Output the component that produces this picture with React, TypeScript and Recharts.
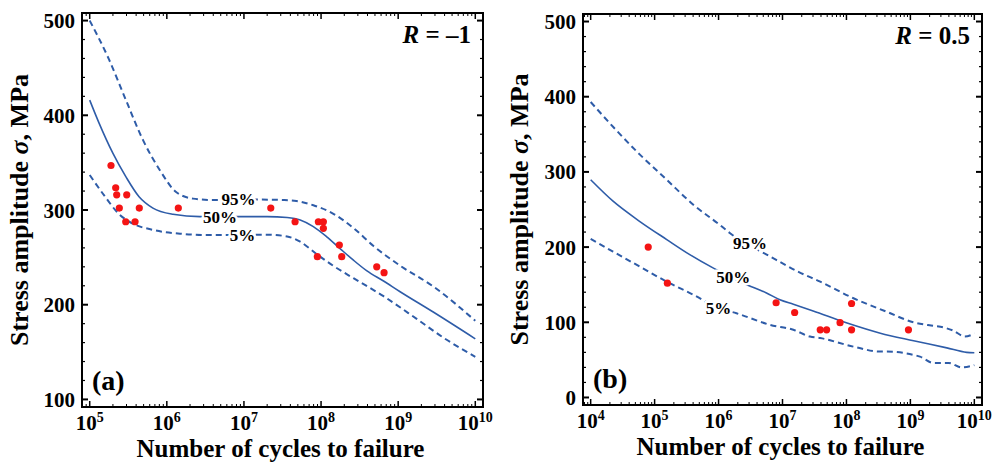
import React from 'react';
import { ComposedChart, Line, Scatter, XAxis, YAxis, ReferenceDot, Label } from 'recharts';

type P = [number, number];

// ---------- Panel (a): R = -1   [log10(N), stress amplitude MPa] ----------
const curveA50: P[] = [
  [5.0, 416], [5.12, 392], [5.3, 360], [5.47, 335], [5.64, 314], [5.82, 302], [6.08, 295.5],
  [6.43, 293], [6.95, 293], [7.3, 293], [7.56, 292], [7.73, 289.5], [7.9, 282.5], [8.07, 272],
  [8.25, 259], [8.42, 247], [8.59, 236], [8.81, 225], [9.02, 214], [9.46, 192], [10.0, 164],
];
const curveA95: P[] = [
  [5.0, 500], [5.25, 459], [5.47, 416], [5.69, 374], [5.91, 342], [6.12, 319], [6.34, 312],
  [6.6, 310.5], [7.21, 311], [7.51, 310.5], [7.68, 309.5], [7.9, 305], [8.16, 296], [8.42, 281],
  [8.68, 262], [9.03, 241], [9.46, 219], [10.0, 183],
];
const curveA5: P[] = [
  [5.0, 337], [5.2, 314], [5.37, 296.5], [5.55, 286], [5.82, 279], [6.17, 275], [6.52, 273.5],
  [7.3, 274], [7.56, 272], [7.73, 266.5], [7.95, 253], [8.16, 241], [8.42, 228], [8.81, 209],
  [9.24, 185], [9.59, 165], [10.0, 145],
];
const pointsA: P[] = [
  [5.276, 347], [5.337, 323.5], [5.35, 316], [5.48, 316], [5.384, 302], [5.643, 302],
  [5.467, 287.6], [5.588, 287.6], [6.149, 302], [7.348, 302], [7.663, 287.6], [7.965, 287.6],
  [8.03, 287.6], [8.03, 280.7], [8.237, 263], [7.952, 250.7], [8.268, 250.7], [8.722, 240],
  [8.817, 233.8],
];
const curveLabelsA: [number, number, string][] = [
  [6.93, 311.6, '95%'], [6.69, 293, '50%'], [6.98, 273.6, '5%'],
];
const xDomainA: P = [4.9, 10.1];
const yDomainA: P = [92, 508];
const xMajorA = [5, 6, 7, 8, 9, 10];
const yMajorA = [100, 200, 300, 400, 500];

// ---------- Panel (b): R = 0.5 ----------
const curveB50: P[] = [
  [4.0, 289.5], [4.35, 261], [4.77, 234], [5.19, 210], [5.55, 190], [5.92, 172], [6.39, 152],
  [6.75, 139], [6.96, 130], [7.17, 124], [7.48, 115], [8.01, 99], [8.53, 85.5], [9.05, 75.5],
  [9.57, 66], [9.88, 60], [10.0, 59.5],
];
const curveB95: P[] = [
  [4.0, 393], [4.35, 360], [4.77, 323], [5.19, 289.5], [5.61, 256], [6.02, 229.5], [6.18, 218.5],
  [6.81, 187.4], [7.25, 167], [7.59, 154], [8.11, 132], [8.63, 114], [9.05, 100], [9.3, 96],
  [9.47, 94], [9.67, 89], [9.85, 81], [10.0, 85],
];
const curveB5: P[] = [
  [4.0, 211], [4.35, 194], [4.77, 174], [5.19, 154], [5.61, 136.5], [6.0, 119], [6.28, 112],
  [6.81, 96.5], [7.17, 90], [7.43, 81], [7.59, 79], [8.11, 67.6], [8.53, 61], [8.63, 61],
  [9.15, 54.3], [9.36, 46], [9.6, 46], [9.8, 40], [10.0, 43],
];
const pointsB: P[] = [
  [4.9, 200], [5.2, 152], [6.9, 126], [7.19, 113], [7.59, 90], [7.69, 90], [7.9, 99.5],
  [8.08, 125], [8.08, 90], [8.97, 90],
];
const curveLabelsB: [number, number, string][] = [
  [6.49, 205, '95%'], [6.23, 160.7, '50%'], [6.0, 118.7, '5%'],
];
const xDomainB: P = [3.88, 10.12];
const yDomainB: P = [-10, 510];
const xMajorB = [4, 5, 6, 7, 8, 9, 10];
const yMajorB = [0, 100, 200, 300, 400, 500];

// ---------- styling ----------
const FONT = '"Liberation Serif", "Times New Roman", Times, serif';
const BLUE = '#2e5ca8';
const RED = '#f41414';
const M = 8; // tick margin used to locate the axis line

const toPts = (arr: P[]) => arr.map(([x, y]) => ({ x, y }));

const minorLogTicks = (dom: P) => {
  const out: number[] = [];
  for (let d = Math.floor(dom[0]); d <= Math.ceil(dom[1]); d++) {
    for (let k = 2; k <= 9; k++) {
      const v = d + Math.log10(k);
      if (v > dom[0] && v < dom[1]) out.push(v);
    }
  }
  return out;
};
const linTicks = (dom: P, step: number) => {
  const out: number[] = [];
  for (let v = Math.ceil(dom[0] / step) * step; v <= dom[1]; v += step) out.push(v);
  return out;
};
const isInt = (v: number) => Math.abs(v - Math.round(v)) < 1e-6;

const XBottomTick = (props: any) => {
  const { x, y, payload } = props;
  const v = payload.value;
  const major = isInt(v);
  const y0 = y - M;
  return (
    <g>
      <line x1={x} x2={x} y1={y0} y2={y0 - (major ? 6 : 3)} stroke="#000" strokeWidth={major ? 1.5 : 1} />
      {major && (
        <text x={x} y={y0 + 23} textAnchor="middle" fontFamily={FONT} fontWeight="bold" fontSize={21} fill="#000">
          10<tspan dy={-8} fontSize={14}>{Math.round(v)}</tspan>
        </text>
      )}
    </g>
  );
};
const XTopTick = (props: any) => {
  const { x, y, payload } = props;
  const major = isInt(payload.value);
  const y0 = y + M;
  return <line x1={x} x2={x} y1={y0} y2={y0 + (major ? 6 : 3)} stroke="#000" strokeWidth={major ? 1.5 : 1} />;
};
const YLeftTick = (props: any) => {
  const { x, y, payload } = props;
  const v = payload.value;
  const major = v % 100 === 0;
  const x0 = x + M;
  return (
    <g>
      <line x1={x0} x2={x0 + (major ? 6 : 3)} y1={y} y2={y} stroke="#000" strokeWidth={major ? 2 : 1.2} />
      {major && (
        <text x={x0 - 7} y={y} dy="0.36em" textAnchor="end" fontFamily={FONT} fontWeight="bold" fontSize={21} fill="#000">
          {v}
        </text>
      )}
    </g>
  );
};
const YRightTick = (props: any) => {
  const { x, y, payload } = props;
  const major = payload.value % 100 === 0;
  const x0 = x - M;
  return <line x1={x0} x2={x0 - (major ? 6 : 3)} y1={y} y2={y} stroke="#000" strokeWidth={major ? 2 : 1.2} />;
};

const frameLine = { stroke: '#000', strokeWidth: 2, strokeLinecap: 'square' as const };

type PanelProps = {
  width: number;
  height: number;
  margin: { top: number; right: number; bottom: number; left: number };
  yAxisWidth: number;
  xAxisHeight: number;
  xDomain: P;
  yDomain: P;
  xMajor: number[];
  yMajor: number[];
  c50: P[];
  c95: P[];
  c5: P[];
  pts: P[];
  labels: [number, number, string][];
  rText: string;
  tag: string;
};

const Panel = (p: PanelProps) => {
  const xTicks = [...p.xMajor, ...minorLogTicks(p.xDomain)].sort((a, b) => a - b);
  const yTicks = linTicks(p.yDomain, 20);
  const common = { xAxisId: 'b', yAxisId: 'l' };
  return (
    <ComposedChart width={p.width} height={p.height} margin={p.margin}>
      <XAxis
        xAxisId="b"
        type="number"
        dataKey="x"
        orientation="bottom"
        domain={p.xDomain}
        allowDataOverflow
        ticks={xTicks}
        interval={0}
        height={p.xAxisHeight}
        tickSize={0}
        tickMargin={M}
        tickLine={false}
        axisLine={frameLine}
        tick={XBottomTick}
        label={
          <Label
            content={(lp: any) => {
              const vb = lp.viewBox;
              return (
                <g>
                  <text x={vb.x + vb.width / 2 - 2} y={vb.y + 50} textAnchor="middle" fontFamily={FONT} fontWeight="bold" fontSize={25} fill="#000">
                    Number of cycles to failure
                  </text>
                  <text x={vb.x + 10} y={vb.y - 17} fontFamily={FONT} fontWeight="bold" fontSize={28} fill="#000">
                    {p.tag}
                  </text>
                </g>
              );
            }}
          />
        }
      />
      <XAxis
        xAxisId="t"
        type="number"
        dataKey="x"
        orientation="top"
        domain={p.xDomain}
        allowDataOverflow
        ticks={xTicks}
        interval={0}
        height={1}
        tickSize={0}
        tickMargin={M}
        tickLine={false}
        axisLine={frameLine}
        tick={XTopTick}
        label={
          <Label
            content={(lp: any) => {
              const vb = lp.viewBox;
              return (
                <text x={vb.x + vb.width - 12} y={vb.y + vb.height + 30} textAnchor="end" fontFamily={FONT} fontWeight="bold" fontSize={25} fill="#000">
                  <tspan fontStyle="italic">R</tspan>
                  {' = ' + p.rText}
                </text>
              );
            }}
          />
        }
      />
      <YAxis
        yAxisId="l"
        type="number"
        dataKey="y"
        orientation="left"
        domain={p.yDomain}
        allowDataOverflow
        ticks={yTicks}
        interval={0}
        width={p.yAxisWidth}
        tickSize={0}
        tickMargin={M}
        tickLine={false}
        axisLine={frameLine}
        tick={YLeftTick}
        label={
          <Label
            content={(lp: any) => {
              const vb = lp.viewBox;
              const cx = vb.x + 28;
              const cy = vb.y + vb.height / 2;
              return (
                <text x={cx} y={cy} transform={`rotate(-90 ${cx} ${cy})`} textAnchor="middle" fontFamily={FONT} fontWeight="bold" fontSize={26} fill="#000">
                  Stress amplitude <tspan fontStyle="italic">σ</tspan>, MPa
                </text>
              );
            }}
          />
        }
      />
      <YAxis
        yAxisId="r"
        type="number"
        dataKey="y"
        orientation="right"
        domain={p.yDomain}
        allowDataOverflow
        ticks={yTicks}
        interval={0}
        width={1}
        tickSize={0}
        tickMargin={M}
        tickLine={false}
        axisLine={frameLine}
        tick={YRightTick}
      />
      <Line {...common} data={toPts(p.c95)} dataKey="y" type="monotone" stroke={BLUE} strokeWidth={2} strokeDasharray="6 4" dot={false} activeDot={false} isAnimationActive={false} />
      <Line {...common} data={toPts(p.c5)} dataKey="y" type="monotone" stroke={BLUE} strokeWidth={2} strokeDasharray="6 4" dot={false} activeDot={false} isAnimationActive={false} />
      <Line {...common} data={toPts(p.c50)} dataKey="y" type="monotone" stroke={BLUE} strokeWidth={1.6} dot={false} activeDot={false} isAnimationActive={false} />
      {p.labels.map(([lx, ly, txt]) => (
        <ReferenceDot
          key={txt}
          {...common}
          x={lx}
          y={ly}
          r={0}
          fill="none"
          stroke="none"
          label={
            <Label
              content={(lp: any) => {
                const vb = lp.viewBox;
                return (
                  <text
                    x={vb.x + vb.width / 2}
                    y={vb.y + vb.height / 2}
                    dy="0.35em"
                    textAnchor="middle"
                    fontFamily={FONT}
                    fontWeight="bold"
                    fontSize={17}
                    fill="#000"
                    stroke="#fff"
                    strokeWidth={5}
                    paintOrder="stroke"
                  >
                    {txt}
                  </text>
                );
              }}
            />
          }
        />
      ))}
      <Scatter
        {...common}
        data={toPts(p.pts)}
        dataKey="y"
        isAnimationActive={false}
        shape={(sp: any) => <circle cx={sp.cx} cy={sp.cy} r={3.6} fill={RED} />}
      />
    </ComposedChart>
  );
};

export default function App() {
  return (
    <div style={{ position: 'absolute', left: 0, top: 0, width: 995, height: 467, background: '#fff' }}>
      <div style={{ position: 'absolute', left: 0, top: 0 }}>
        <Panel
          width={500}
          height={467}
          margin={{ top: 12, right: 16, bottom: 0, left: 0 }}
          yAxisWidth={82}
          xAxisHeight={60}
          xDomain={xDomainA}
          yDomain={yDomainA}
          xMajor={xMajorA}
          yMajor={yMajorA}
          c50={curveA50}
          c95={curveA95}
          c5={curveA5}
          pts={pointsA}
          labels={curveLabelsA}
          rText={'\u2013' + '1'}
          tag="(a)"
        />
      </div>
      <div style={{ position: 'absolute', left: 500, top: 0 }}>
        <Panel
          width={495}
          height={467}
          margin={{ top: 13, right: 12, bottom: 0, left: 0 }}
          yAxisWidth={83}
          xAxisHeight={62}
          xDomain={xDomainB}
          yDomain={yDomainB}
          xMajor={xMajorB}
          yMajor={yMajorB}
          c50={curveB50}
          c95={curveB95}
          c5={curveB5}
          pts={pointsB}
          labels={curveLabelsB}
          rText="0.5"
          tag="(b)"
        />
      </div>
    </div>
  );
}
